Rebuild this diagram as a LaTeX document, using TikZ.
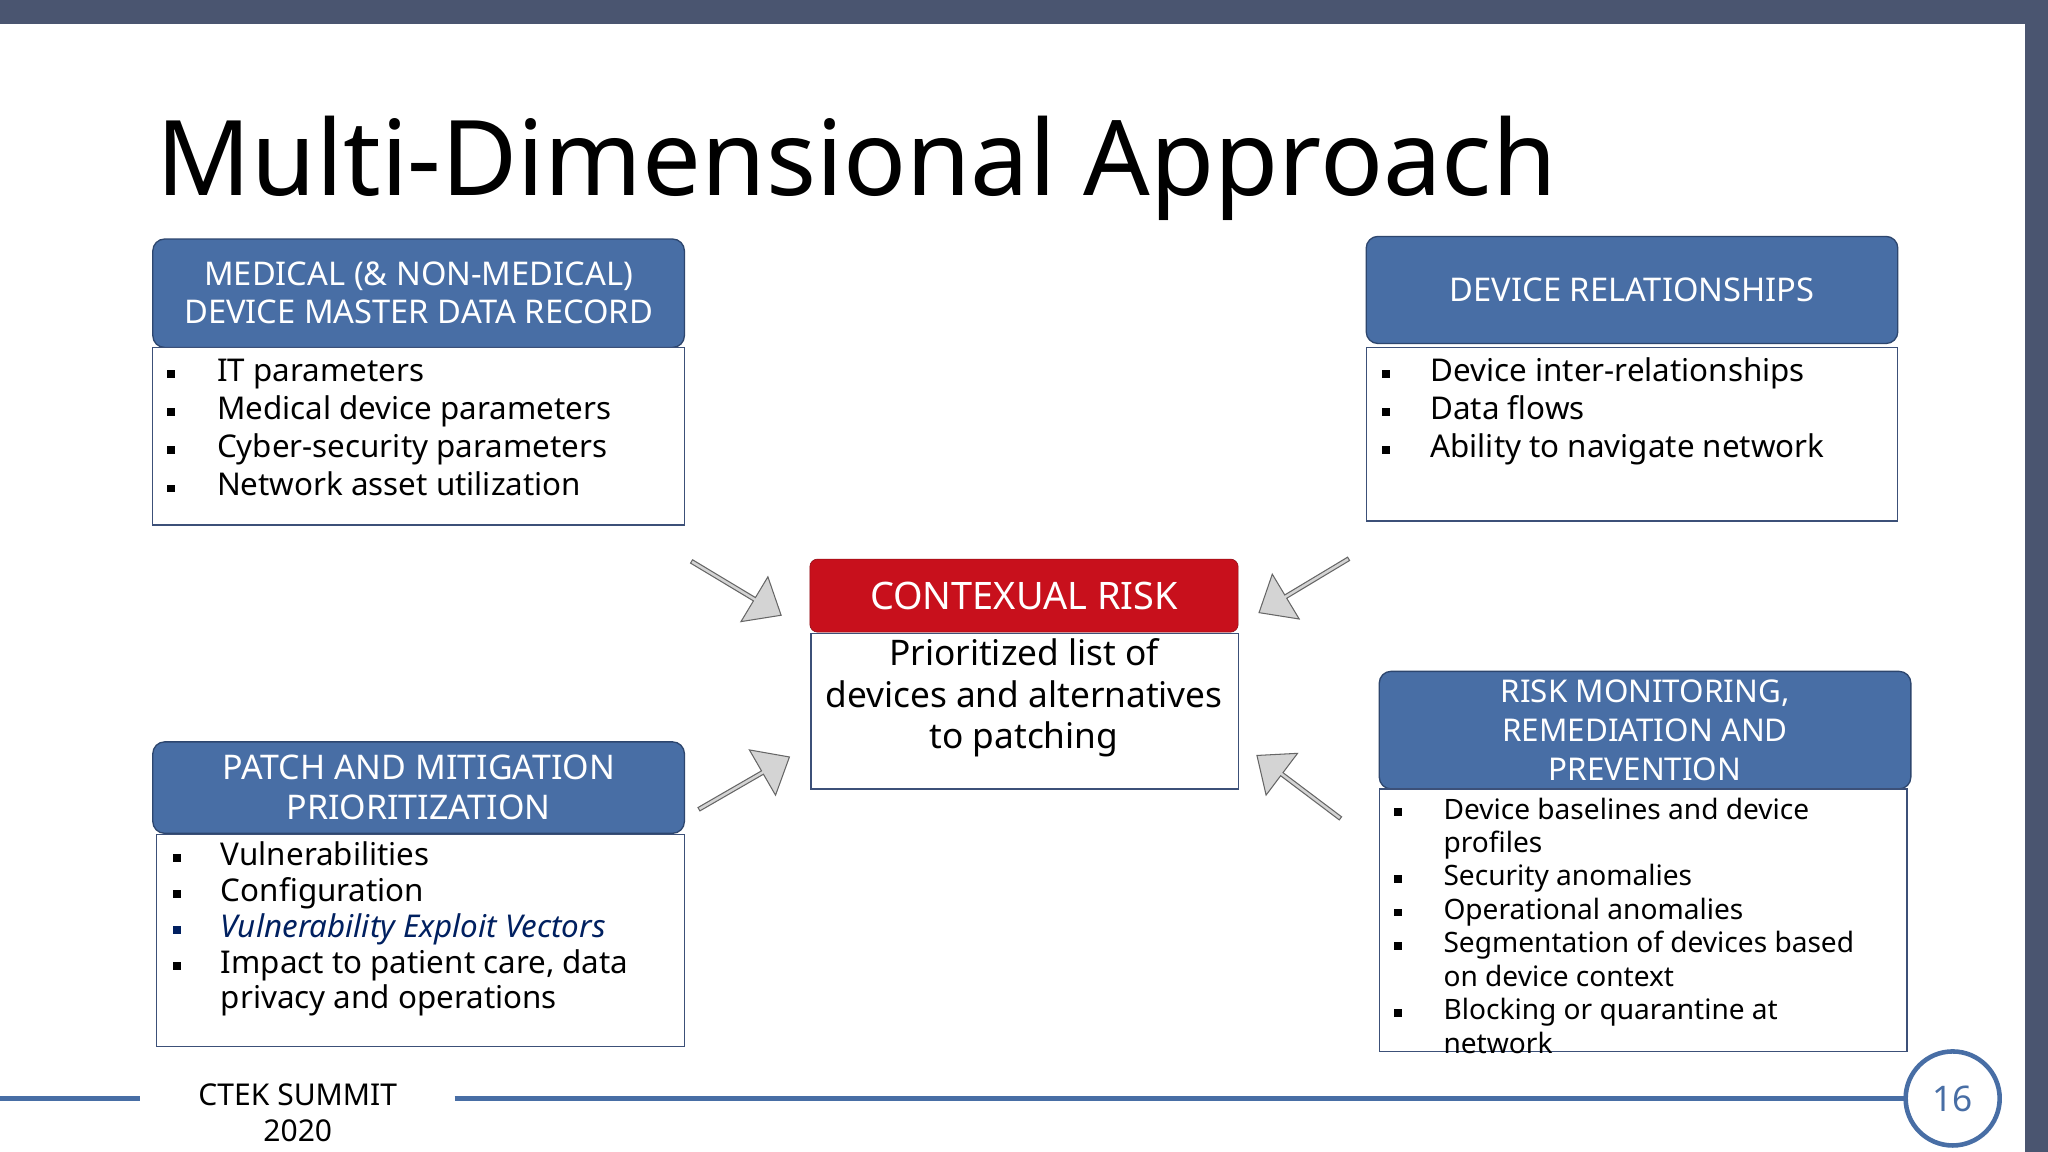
\documentclass[tikz,border=0pt]{standalone}
\usepackage{fontspec}
\setmainfont{Noto Sans}
\usetikzlibrary{shapes.arrows}
\definecolor{slate}{RGB}{74,85,112}
\definecolor{hblue}{RGB}{72,110,165}
\definecolor{hborder}{RGB}{45,70,110}
\definecolor{bborder}{RGB}{60,80,120}
\definecolor{cred}{RGB}{200,16,28}
\definecolor{navy}{RGB}{0,32,96}
\definecolor{agray}{RGB}{212,212,212}
\newcommand{\bul}{\rule[0.2ex]{6pt}{6pt}}
\begin{document}
\begin{tikzpicture}[x=1pt,y=-1pt,
  head/.style={draw=hborder,line width=1pt,fill=hblue,rounded corners=9pt,text=white,align=center,inner sep=0pt},
  body/.style={draw=bborder,line width=1pt,fill=white,inner sep=0pt},
  txt/.style={anchor=north west,inner sep=0pt,align=left},
  barr/.style={single arrow,draw=gray!80!black,fill=agray,line width=0.8pt,minimum height=80pt,minimum width=40pt,single arrow head extend=5pt,single arrow tip angle=80,inner sep=0pt}]
\useasboundingbox (0,0) rectangle (1568,882);
\fill[white] (0,0) rectangle (1568,882);
\fill[slate] (0,0) rectangle (1568,18);
\fill[slate] (1550,0) rectangle (1568,882);
\node[anchor=base west,inner sep=0pt,font=\fontsize{80}{90}\selectfont] (title) at (120,150) {Multi-Dimensional Approach};

% Box 1
\node[head,minimum width=407pt,minimum height=83pt,font=\fontsize{25}{29}\selectfont] (h1) at (320.5,224.5) {MEDICAL (\& NON-MEDICAL)\\DEVICE MASTER DATA RECORD};
\node[body,minimum width=407pt,minimum height=136pt] (b1) at (320.5,334) {};
\node[txt,font=\fontsize{24}{29.3}\selectfont] (t1) at (128,271) {\begin{tabular}{@{}p{38pt}@{}l@{}}
\bul & IT parameters\\ \bul & Medical device parameters\\ \bul & Cyber-security parameters\\ \bul & Network asset utilization\end{tabular}};

% Box 2
\node[head,minimum width=407pt,minimum height=82pt,font=\fontsize{25}{29}\selectfont] (h2) at (1249.5,222) {DEVICE RELATIONSHIPS};
\node[body,minimum width=407pt,minimum height=133pt] (b2) at (1249.5,332.5) {};
\node[txt,font=\fontsize{24}{29.3}\selectfont] (t2) at (1058,271) {\begin{tabular}{@{}p{37pt}@{}l@{}}
\bul & Device inter-relationships\\ \bul & Data flows\\ \bul & Ability to navigate network\end{tabular}};

% Center
\node[draw=cred!70!black,fill=cred,rounded corners=6pt,minimum width=328pt,minimum height=56pt,text=white,font=\fontsize{29}{33}\selectfont,inner sep=0pt] (hc) at (784,456) {CONTEXUAL RISK};
\node[body,minimum width=327pt,minimum height=119pt] (bc) at (784.5,544.5) {};
\node[anchor=north,inner sep=0pt,align=center,font=\fontsize{27}{31.5}\selectfont] (tc) at (784,489) {Prioritized list of\\devices and alternatives\\to patching};

% Box 3
\node[head,minimum width=407pt,minimum height=70pt,font=\fontsize{26}{31}\selectfont] (h3) at (320.5,603) {PATCH AND MITIGATION\\PRIORITIZATION};
\node[body,minimum width=404pt,minimum height=162pt] (b3) at (322,720) {};
\node[txt,font=\fontsize{24}{27.5}\selectfont] (t3) at (132,643) {\begin{tabular}{@{}p{37pt}@{}l@{}}
\bul & Vulnerabilities\\ \bul & Configuration\\ \textcolor{navy}{\bul} & \textcolor{navy}{\itshape Vulnerability Exploit Vectors}\\ \bul & Impact to patient care, data\\ & privacy and operations\end{tabular}};

% Box 4
\node[head,minimum width=407pt,minimum height=90pt,font=\fontsize{24}{30}\selectfont] (h4) at (1259.5,559) {RISK MONITORING,\\REMEDIATION AND\\PREVENTION};
\node[body,minimum width=404pt,minimum height=201pt] (b4) at (1258,704.5) {};
\node[txt,font=\fontsize{21.5}{25.6}\selectfont] (t4) at (1067,609) {\begin{tabular}{@{}p{38pt}@{}l@{}}
\bul & Device baselines and device\\ & profiles\\ \bul & Security anomalies\\ \bul & Operational anomalies\\ \bul & Segmentation of devices based\\ & on device context\\ \bul & Blocking or quarantine at\\ & network\end{tabular}};

% Arrows
\node[barr,rotate=-31] (a1) at (563,450) {};
\node[barr,rotate=-149] (a2) at (999,448) {};
\node[barr,rotate=30] (a3) at (569,600) {};
\node[barr,rotate=143] (a4) at (995,603) {};

% Footer
\draw[hblue,line width=4pt] (0,841) -- (107,841);
\draw[hblue,line width=4pt] (348,841) -- (1460,841);
\node[anchor=center,inner sep=0pt,align=center,font=\bfseries\fontsize{23}{28}\selectfont] (ft) at (228,852) {CTEK SUMMIT\\2020};
\node[circle,draw=hblue,line width=3.5pt,fill=white,minimum size=72pt,text=hblue,font=\fontsize{27}{30}\selectfont,inner sep=0pt] (pg) at (1495,841) {16};
\end{tikzpicture}
\end{document}
